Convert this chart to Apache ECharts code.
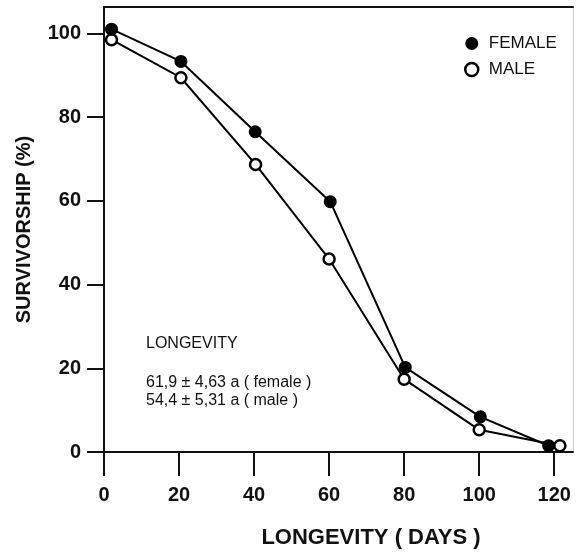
<!DOCTYPE html>
<html>
<head>
<meta charset="utf-8">
<script src="https://cdn.jsdelivr.net/npm/echarts@6/dist/echarts.min.js"></script>
<style>
html,body{margin:0;padding:0;background:#fff;}
#chart{width:576px;height:554px;}
</style>
</head>
<body>
<div id="chart"></div>
<script>
// ---- data ----
var femaleDays = [2, 20.5, 40.3, 60.3, 80.3, 100.3, 118.5];
var femaleSurvival = [101, 93.3, 76.5, 59.8, 20.2, 8.4, 1.5];
var maleDays = [2, 20.5, 40.4, 60, 80, 100, 121.5];
var maleSurvival = [98.5, 89.4, 68.7, 46.1, 17.4, 5.3, 1.5];
var xTicks = [0, 20, 40, 60, 80, 100, 120];
var yTicks = [0, 20, 40, 60, 80, 100];
var seriesNames = ['FEMALE', 'MALE'];
var noteTitle = 'LONGEVITY';
var noteLines = ['61,9 \u00B1 4,63 a ( female )', '54,4 \u00B1 5,31 a ( male )'];
var xTitle = 'LONGEVITY ( DAYS )';
var yTitle = 'SURVIVORSHIP (%)';

function pairs(xs, ys) { return xs.map(function (x, i) { return [x, ys[i]]; }); }

var FONT = '"Liberation Sans", Arial, sans-serif';
var chart = echarts.init(document.getElementById('chart'), null, {renderer: 'canvas'});
chart.setOption({
  animation: false,
  backgroundColor: '#fff',
  grid: {left: 104, right: 3, top: 7, bottom: 101, containLabel: false},
  xAxis: [{
    type: 'value', min: 0, max: 125, position: 'bottom',
    name: xTitle, nameLocation: 'middle', nameGap: 75,
    nameTextStyle: {fontFamily: FONT, fontWeight: 'bold', fontSize: 22, color: '#111', padding: [0, 0, 0, 65]},
    axisLine: {show: true, onZero: false, lineStyle: {color: '#111', width: 2}},
    axisTick: {show: true, length: 24, inside: false, customValues: xTicks, lineStyle: {color: '#111', width: 2}},
    axisLabel: {customValues: xTicks, margin: 33, fontFamily: FONT, fontWeight: 'bold', fontSize: 20, color: '#111'},
    splitLine: {show: false}
  }, {
    type: 'value', min: 0, max: 125, position: 'top',
    axisLine: {show: true, onZero: false, lineStyle: {color: '#111', width: 2}},
    axisTick: {show: false}, axisLabel: {show: false}, splitLine: {show: false}
  }],
  yAxis: [{
    type: 'value', min: 0, max: 106.3, position: 'left',
    name: yTitle, nameLocation: 'middle', nameGap: 70, nameRotate: 90,
    nameTextStyle: {fontFamily: FONT, fontWeight: 'bold', fontSize: 20, color: '#111'},
    axisLine: {show: true, onZero: false, lineStyle: {color: '#111', width: 2}},
    axisTick: {show: true, length: 17, inside: false, customValues: yTicks, lineStyle: {color: '#111', width: 2}},
    axisLabel: {customValues: yTicks, margin: 23, fontFamily: FONT, fontWeight: 'bold', fontSize: 20, color: '#111'},
    splitLine: {show: false}
  }, {
    type: 'value', min: 0, max: 106.3, position: 'right',
    axisLine: {show: true, onZero: false, lineStyle: {color: '#cfcfcf', width: 1}},
    axisTick: {show: false}, axisLabel: {show: false}, splitLine: {show: false}
  }],
  legend: {
    orient: 'vertical', left: 459, top: 30, itemGap: 9,
    itemWidth: 24, itemHeight: 13,
    textStyle: {fontFamily: FONT, fontSize: 17, color: '#111', lineHeight: 16},
    data: [
      {name: seriesNames[0], icon: 'circle', itemStyle: {color: '#000', borderWidth: 0}},
      {name: seriesNames[1], icon: 'circle', itemStyle: {color: '#fff', borderColor: '#000', borderWidth: 2.5}}
    ]
  },
  graphic: [
    {type: 'text', left: 146, top: 336, style: {text: noteTitle, font: '16px ' + FONT, fill: '#111'}},
    {type: 'text', left: 146, top: 375, style: {text: noteLines[0], font: '16px ' + FONT, fill: '#111'}},
    {type: 'text', left: 146, top: 393, style: {text: noteLines[1], font: '16px ' + FONT, fill: '#111'}}
  ],
  series: [{
    name: seriesNames[0], type: 'line', data: pairs(femaleDays, femaleSurvival),
    symbol: 'circle', symbolSize: 13, z: 3,
    lineStyle: {color: '#000', width: 2},
    itemStyle: {color: '#000', borderWidth: 0}
  }, {
    name: seriesNames[1], type: 'line', data: pairs(maleDays, maleSurvival),
    symbol: 'circle', symbolSize: 11, z: 2,
    lineStyle: {color: '#000', width: 2},
    itemStyle: {color: '#fff', borderColor: '#000', borderWidth: 2.5}
  }]
});
</script>
</body>
</html>
